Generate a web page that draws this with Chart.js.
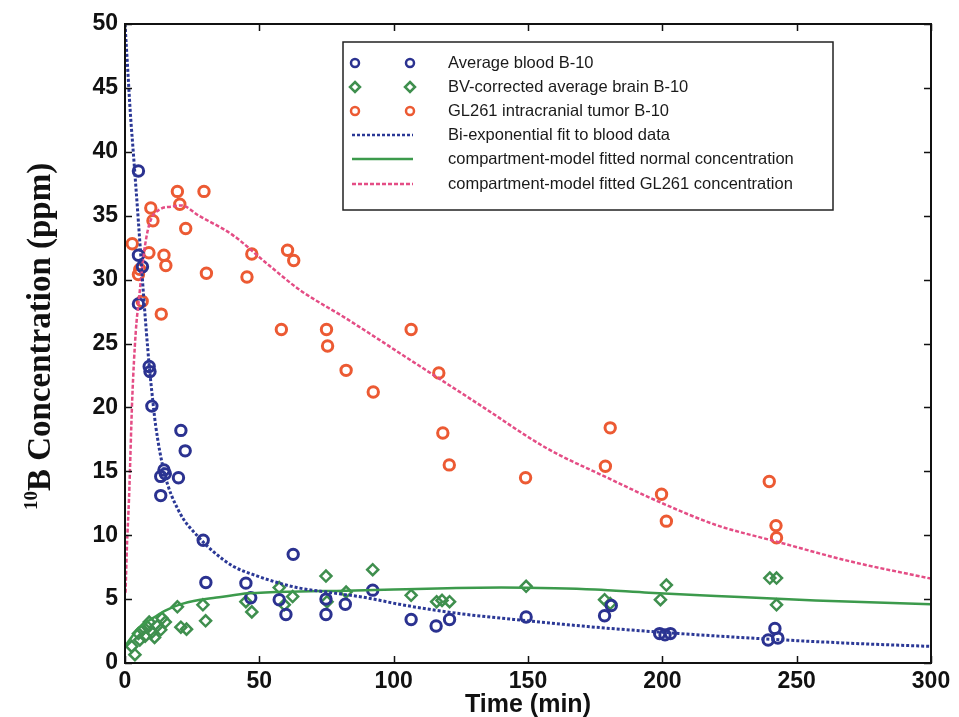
<!DOCTYPE html>
<html><head><meta charset="utf-8">
<script src="https://cdn.jsdelivr.net/npm/chart.js@4.4.0/dist/chart.umd.min.js"></script>
<style>html,body{margin:0;padding:0;background:#fff;overflow:hidden}</style>
</head><body>
<canvas id="c" width="959" height="717"></canvas>
<script>
// ---- data ----
const seriesNames = [
  'Average blood B-10',
  'BV-corrected average brain B-10',
  'GL261 intracranial tumor B-10',
  'Bi-exponential fit to blood data',
  'compartment-model fitted normal concentration',
  'compartment-model fitted GL261 concentration'
];
const xTickValues = [0, 50, 100, 150, 200, 250, 300];
const yTickValues = [0, 5, 10, 15, 20, 25, 30, 35, 40, 45, 50];
const xTitle = 'Time (min)';
const yTitleSup = '10';
const yTitleMain = 'B Concentration (ppm)';

const bloodTime = [5, 5, 6.5, 5, 9, 9.3, 10, 20.8, 22.4, 14.5, 15, 13.3, 19.9, 13.3, 29.1, 30.1, 62.6, 45, 46.8, 57.4, 59.9, 74.8, 74.8, 82, 92.2, 106.5, 115.8, 120.8, 149.3, 178.5, 181, 199, 201, 203, 239.4, 241.9, 243];
const bloodConc = [38.5, 31.9, 31.0, 28.1, 23.2, 22.8, 20.1, 18.2, 16.6, 15.1, 14.8, 14.6, 14.5, 13.1, 9.6, 6.3, 8.5, 6.25, 5.1, 4.95, 3.8, 3.8, 5.0, 4.6, 5.7, 3.4, 2.9, 3.4, 3.6, 3.7, 4.5, 2.3, 2.2, 2.3, 1.8, 2.7, 1.95];

const brainTime = [2.5, 3.7, 5, 5.5, 6.5, 7.5, 8.5, 9, 10, 11, 12, 13.3, 13.8, 15, 19.5, 20.8, 22.9, 29, 30, 45, 47.2, 57.4, 59.3, 62.4, 74.8, 75.2, 82.3, 92.2, 106.5, 116, 118, 120.8, 149.3, 178.5, 180.6, 199.3, 201.5, 240, 242.5, 242.5];
const brainConc = [1.3, 0.65, 2.3, 1.8, 2.6, 2.1, 2.8, 3.2, 2.4, 2.0, 2.9, 2.6, 3.5, 3.2, 4.4, 2.8, 2.65, 4.55, 3.3, 4.8, 4.0, 5.9, 4.55, 5.2, 6.8, 4.8, 5.55, 7.3, 5.3, 4.8, 4.9, 4.8, 6.0, 4.95, 4.65, 4.95, 6.1, 6.65, 6.65, 4.55];

const tumorTime = [2.7, 9.6, 10.4, 5, 5.5, 8.9, 14.5, 15.2, 6.4, 13.5, 19.5, 20.4, 22.6, 29.4, 30.3, 47.2, 45.4, 58.2, 60.5, 62.8, 75, 75.4, 82.3, 92.4, 106.5, 116.8, 118.3, 120.7, 149.1, 178.8, 180.6, 199.7, 201.5, 239.8, 242.3, 242.5];
const tumorConc = [32.8, 35.6, 34.6, 30.4, 30.8, 32.1, 31.9, 31.1, 28.3, 27.3, 36.9, 35.9, 34.0, 36.9, 30.5, 32.0, 30.2, 26.1, 32.3, 31.5, 26.1, 24.8, 22.9, 21.2, 26.1, 22.7, 18.0, 15.5, 14.5, 15.4, 18.4, 13.2, 11.1, 14.2, 10.75, 9.8];

const bloodFitTime = [0, 1, 2, 3, 4, 5, 6, 7, 8, 9, 10, 11.4, 14.5, 20, 27.6, 33, 40, 49.3, 60, 65, 75, 90, 102, 114.5, 127, 150, 175, 200, 225, 250, 275, 300];
const bloodFitConc = [50, 46.5, 43, 40.2, 37.4, 34.5, 31.5, 28.5, 25.8, 23.3, 21.2, 18.6, 15, 11.9, 9.8, 8.7, 7.6, 6.8, 6.1, 5.86, 5.55, 5.1, 4.6, 4.16, 3.8, 3.3, 2.8, 2.4, 2.05, 1.75, 1.5, 1.3];

const normalFitTime = [0, 2, 5, 8, 11, 15, 20, 28, 35, 46, 65, 82, 100, 120, 140, 160, 175, 195, 220, 257, 300];
const normalFitConc = [1.3, 1.9, 2.7, 3.2, 3.6, 4.1, 4.55, 4.95, 5.15, 5.45, 5.6, 5.65, 5.75, 5.85, 5.9, 5.85, 5.75, 5.5, 5.25, 4.9, 4.6];

const tumorFitTime = [0.2, 0.7, 1.5, 2.7, 4, 5.2, 7, 9, 13, 17, 21, 27.5, 40, 52, 65, 82, 107, 132, 157, 178.5, 200, 220, 242.5, 270, 300];
const tumorFitConc = [5.5, 9, 12.9, 20.7, 25.9, 28.5, 32, 34.3, 35.5, 35.7, 35.8, 35, 33.5, 31.4, 29.2, 27, 23.6, 20.2, 16.8, 14.6, 12.5, 10.8, 9.5, 7.95, 6.6];

// ---- styles ----
const BLUE = '#2b3290';
const GREEN = '#3f8f4e';
const RED = '#ec5a33';
const BLUELINE = '#2b3896';
const GREENLINE = '#3c9a4c';
const PINK = '#e44d85';

const pairs = (xs, ys) => xs.map((x, i) => ({x: x, y: ys[i]}));

const datasets = [
  {label: seriesNames[0], type: 'scatter', data: pairs(bloodTime, bloodConc), pointStyle: 'circle', pointRadius: 5.2, borderWidth: 3, borderColor: BLUE, backgroundColor: 'rgba(0,0,0,0)', order: 2},
  {label: seriesNames[1], type: 'scatter', data: pairs(brainTime, brainConc), pointStyle: 'rectRot', pointRadius: 5.5, borderWidth: 2.5, borderColor: GREEN, backgroundColor: 'rgba(0,0,0,0)', order: 2},
  {label: seriesNames[2], type: 'scatter', data: pairs(tumorTime, tumorConc), pointStyle: 'circle', pointRadius: 5.2, borderWidth: 3, borderColor: RED, backgroundColor: 'rgba(0,0,0,0)', order: 2},
  {label: seriesNames[3], type: 'line', data: pairs(bloodFitTime, bloodFitConc), borderColor: BLUELINE, borderWidth: 3, borderDash: [3, 2], pointRadius: 0, cubicInterpolationMode: 'monotone', fill: false, order: 1},
  {label: seriesNames[4], type: 'line', data: pairs(normalFitTime, normalFitConc), borderColor: GREENLINE, borderWidth: 2.5, pointRadius: 0, cubicInterpolationMode: 'monotone', fill: false, order: 1},
  {label: seriesNames[5], type: 'line', data: pairs(tumorFitTime, tumorFitConc), borderColor: PINK, borderWidth: 2.5, borderDash: [4, 2], pointRadius: 0, cubicInterpolationMode: 'monotone', fill: false, order: 1}
];

const framePlugin = {
  id: 'frame',
  afterDraw(chart) {
    const ctx = chart.ctx, a = chart.chartArea;
    const xs = chart.scales.x, ys = chart.scales.y;
    ctx.save();
    ctx.strokeStyle = '#111';
    ctx.lineWidth = 2;
    ctx.strokeRect(a.left, a.top, a.right - a.left, a.bottom - a.top);
    ctx.lineWidth = 1.5;
    const L = 7;
    ctx.beginPath();
    xTickValues.forEach(v => {
      const p = Math.round(xs.getPixelForValue(v)) + 0.5;
      ctx.moveTo(p, a.bottom); ctx.lineTo(p, a.bottom - L);
      ctx.moveTo(p, a.top); ctx.lineTo(p, a.top + L);
    });
    yTickValues.forEach(v => {
      const p = Math.round(ys.getPixelForValue(v)) + 0.5;
      ctx.moveTo(a.left, p); ctx.lineTo(a.left + L, p);
      ctx.moveTo(a.right, p); ctx.lineTo(a.right - L, p);
    });
    ctx.stroke();

    // y axis title with superscript
    ctx.fillStyle = '#111';
    ctx.translate(50, 510);
    ctx.rotate(-Math.PI / 2);
    ctx.textBaseline = 'alphabetic';
    ctx.textAlign = 'left';
    ctx.font = 'bold 19px "Liberation Serif", "Times New Roman", serif';
    ctx.fillText(yTitleSup, 0, -13);
    const w = ctx.measureText(yTitleSup).width;
    ctx.font = 'bold 33px "Liberation Serif", "Times New Roman", serif';
    ctx.fillText(yTitleMain, w, 0);
    ctx.restore();

    // legend
    ctx.save();
    const bx = 343, by = 42, bw = 490, bh = 168;
    ctx.fillStyle = '#fff';
    ctx.fillRect(bx, by, bw, bh);
    ctx.strokeStyle = '#222';
    ctx.lineWidth = 1.5;
    ctx.strokeRect(bx, by, bw, bh);
    const rows = [63, 87, 111, 135, 159, 184];
    const m1 = 355, m2 = 410, tx = 448;
    ctx.font = '16.5px "Liberation Sans", Arial, sans-serif';
    ctx.textBaseline = 'middle';
    ctx.textAlign = 'left';
    datasets.forEach((d, i) => {
      const y = rows[i];
      ctx.strokeStyle = d.borderColor;
      if (d.type === 'scatter') {
        ctx.lineWidth = 2.5;
        [m1, m2].forEach(mx => {
          ctx.beginPath();
          if (d.pointStyle === 'rectRot') {
            const r = 5;
            ctx.moveTo(mx, y - r); ctx.lineTo(mx + r, y); ctx.lineTo(mx, y + r); ctx.lineTo(mx - r, y); ctx.closePath();
          } else {
            ctx.arc(mx, y, 4, 0, Math.PI * 2);
          }
          ctx.stroke();
        });
      } else {
        ctx.lineWidth = 2.5;
        ctx.setLineDash(d.borderDash || []);
        ctx.beginPath();
        ctx.moveTo(352, y); ctx.lineTo(413, y);
        ctx.stroke();
        ctx.setLineDash([]);
      }
      ctx.fillStyle = '#1a1a1a';
      ctx.fillText(d.label, tx, y);
    });
    ctx.restore();
  }
};

new Chart(document.getElementById('c'), {
  type: 'scatter',
  data: {datasets: datasets},
  options: {
    responsive: false,
    animation: false,
    layout: {padding: {left: 0, right: 28, top: 24, bottom: 0}},
    plugins: {legend: {display: false}, tooltip: {enabled: false}},
    scales: {
      x: {
        type: 'linear', min: 0, max: 300,
        afterBuildTicks: s => { s.ticks = xTickValues.map(v => ({value: v})); },
        afterFit: s => { s.height = 54; },
        grid: {display: false, drawTicks: false},
        border: {display: false},
        ticks: {padding: 5, color: '#111', font: {family: '"Liberation Sans", Arial, sans-serif', size: 23, weight: 'bold'}, maxRotation: 0, autoSkip: false},
        title: {display: true, text: xTitle, color: '#111', padding: {top: 0, bottom: -3}, font: {family: '"Liberation Sans", Arial, sans-serif', size: 25, weight: 'bold'}}
      },
      y: {
        type: 'linear', min: 0, max: 50,
        afterBuildTicks: s => { s.ticks = yTickValues.map(v => ({value: v})); },
        afterFit: s => { s.width = 125; },
        grid: {display: false, drawTicks: false},
        border: {display: false},
        ticks: {padding: 7, color: '#111', font: {family: '"Liberation Sans", Arial, sans-serif', size: 23, weight: 'bold'}, autoSkip: false}
      }
    }
  },
  plugins: [framePlugin]
});
</script>
</body></html>
